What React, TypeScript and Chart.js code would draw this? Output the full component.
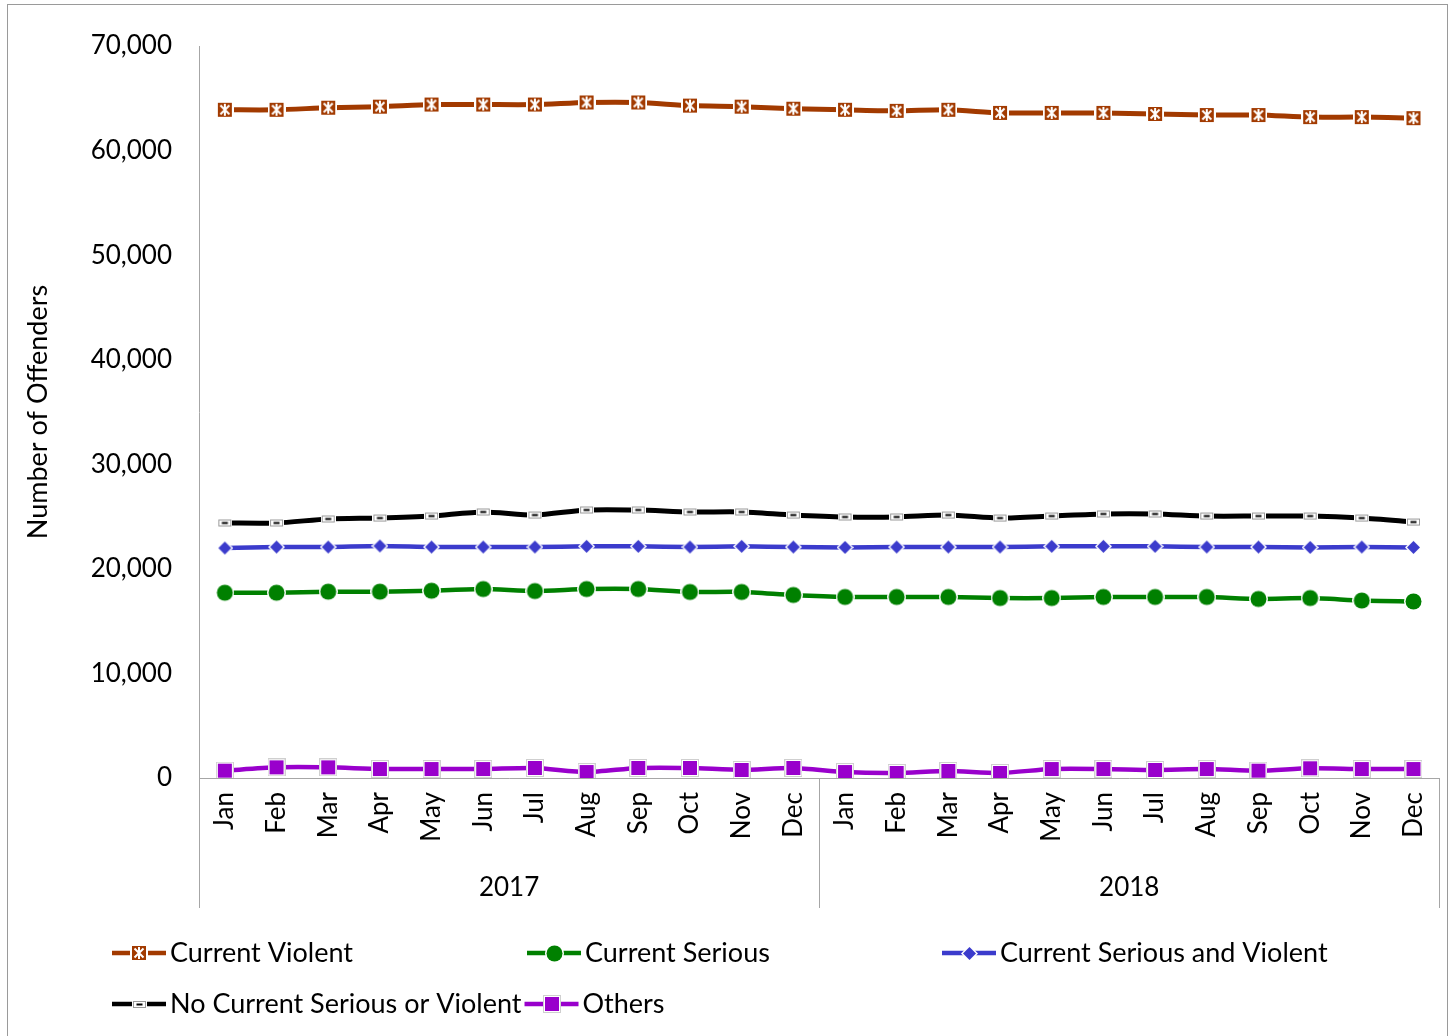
import React, { useEffect, useRef } from "react";
import { Chart, registerables } from "chart.js";

Chart.register(...registerables);

const monthLabels = ["Jan", "Feb", "Mar", "Apr", "May", "Jun", "Jul", "Aug", "Sep", "Oct", "Nov", "Dec"];
const years = ["2017", "2018"];
const categories = [...monthLabels, ...monthLabels];

const currentViolent = [63900, 63900, 64100, 64200, 64400, 64400, 64400, 64600, 64600, 64300, 64200, 64000,
  63900, 63800, 63900, 63600, 63600, 63600, 63500, 63400, 63400, 63200, 63200, 63100];
const currentSerious = [17720, 17720, 17820, 17820, 17910, 18070, 17880, 18070, 18070, 17790, 17790, 17500,
  17310, 17310, 17310, 17210, 17210, 17310, 17310, 17310, 17120, 17210, 16970, 16880];
const currentSeriousViolent = [21990, 22090, 22090, 22190, 22090, 22090, 22090, 22150, 22150, 22090, 22150, 22090,
  22050, 22090, 22090, 22090, 22150, 22150, 22150, 22090, 22090, 22050, 22090, 22050];
const noCurrent = [24390, 24390, 24770, 24860, 25050, 25440, 25150, 25630, 25630, 25440, 25440, 25150,
  24960, 24960, 25150, 24860, 25050, 25250, 25250, 25050, 25050, 25050, 24860, 24480];
const others = [700, 1020, 1020, 860, 860, 860, 960, 570, 960, 960, 770, 960,
  570, 480, 670, 480, 860, 860, 770, 860, 700, 930, 860, 860];

const yMax = 70000;
const yStep = 10000;
const seriesNames = ["Current Violent", "Current Serious", "Current Serious and Violent", "No Current Serious or Violent", "Others"];
const seriesColors = ["#A23A00", "#008000", "#3B3BCC", "#000000", "#9900CC"];

const FONT = "Lato";
const FS = 26;
const FS_LEGEND = 27;

function makeCanvas(w: number, h: number) {
  const c = document.createElement("canvas");
  c.width = w;
  c.height = h;
  return c;
}

function markerViolent() {
  const c = makeCanvas(18, 18);
  const ctx = c.getContext("2d")!;
  ctx.fillStyle = "#ffffff";
  ctx.fillRect(0, 0, 18, 18);
  ctx.fillStyle = seriesColors[0];
  ctx.fillRect(2, 2, 14, 14);
  ctx.strokeStyle = "#ffffff";
  ctx.lineWidth = 2;
  ctx.beginPath();
  ctx.moveTo(4.5, 4.5); ctx.lineTo(13.5, 13.5);
  ctx.moveTo(13.5, 4.5); ctx.lineTo(4.5, 13.5);
  ctx.moveTo(9, 3); ctx.lineTo(9, 15);
  ctx.stroke();
  return c;
}

function markerSerious() {
  const c = makeCanvas(19, 19);
  const ctx = c.getContext("2d")!;
  ctx.fillStyle = "#ffffff";
  ctx.beginPath(); ctx.arc(9.5, 9.5, 9.5, 0, Math.PI * 2); ctx.fill();
  ctx.fillStyle = seriesColors[1];
  ctx.beginPath(); ctx.arc(9.5, 9.5, 8, 0, Math.PI * 2); ctx.fill();
  return c;
}

function markerSV() {
  const c = makeCanvas(17, 17);
  const ctx = c.getContext("2d")!;
  ctx.fillStyle = "#ffffff";
  ctx.beginPath(); ctx.moveTo(8.5, 0); ctx.lineTo(17, 8.5); ctx.lineTo(8.5, 17); ctx.lineTo(0, 8.5); ctx.closePath(); ctx.fill();
  ctx.fillStyle = seriesColors[2];
  ctx.beginPath(); ctx.moveTo(8.5, 2); ctx.lineTo(15, 8.5); ctx.lineTo(8.5, 15); ctx.lineTo(2, 8.5); ctx.closePath(); ctx.fill();
  return c;
}

function markerNone() {
  const c = makeCanvas(15, 9);
  const ctx = c.getContext("2d")!;
  ctx.fillStyle = "#ffffff";
  ctx.fillRect(0, 0, 15, 9);
  ctx.strokeStyle = "#9a9a9a";
  ctx.lineWidth = 1;
  ctx.strokeRect(1.5, 1.5, 12, 6);
  ctx.fillStyle = "#000000";
  ctx.fillRect(4.5, 3.5, 6, 2);
  return c;
}

function markerOthers() {
  const c = makeCanvas(18, 18);
  const ctx = c.getContext("2d")!;
  ctx.fillStyle = "#ffffff";
  ctx.fillRect(0, 0, 18, 18);
  ctx.strokeStyle = "#cfcfcf";
  ctx.lineWidth = 1;
  ctx.strokeRect(0.5, 0.5, 17, 17);
  ctx.fillStyle = seriesColors[4];
  ctx.fillRect(2, 2, 14, 14);
  return c;
}

export default function App() {
  const ref = useRef<HTMLCanvasElement | null>(null);

  useEffect(() => {
    if (!ref.current) return;
    const markers = [markerViolent(), markerSerious(), markerSV(), markerNone(), markerOthers()];
    const seriesData = [currentViolent, currentSerious, currentSeriousViolent, noCurrent, others];
    const widths = [5, 4.5, 4.5, 5, 4.5];

    const decor = {
      id: "decor",
      afterDraw(chart: any) {
        const ctx = chart.ctx as CanvasRenderingContext2D;
        const area = chart.chartArea;
        const xs = chart.scales.x;
        ctx.save();
        const mid = (xs.getPixelForValue(11) + xs.getPixelForValue(12)) / 2;
        ctx.strokeStyle = "#a6a6a6";
        ctx.lineWidth = 1;
        ctx.beginPath();
        for (const x of [area.left, mid, area.right]) {
          const px = Math.round(x) + 0.5;
          ctx.moveTo(px, area.bottom);
          ctx.lineTo(px, 908);
        }
        ctx.stroke();
        ctx.fillStyle = "#000000";
        ctx.font = `${FS}px ${FONT}`;
        ctx.textAlign = "center";
        ctx.textBaseline = "middle";
        ctx.fillText(years[0], (area.left + mid) / 2, 888);
        ctx.fillText(years[1], (mid + area.right) / 2, 888);

        ctx.font = `${FS_LEGEND}px ${FONT}`;
        const drawItem = (i: number, x0: number, y: number) => {
          ctx.strokeStyle = seriesColors[i];
          ctx.lineWidth = 4.5;
          ctx.beginPath();
          ctx.moveTo(x0, y);
          ctx.lineTo(x0 + 54, y);
          ctx.stroke();
          const m = markers[i];
          ctx.drawImage(m, Math.round(x0 + 27 - m.width / 2), Math.round(y - m.height / 2));
          ctx.fillStyle = "#000000";
          ctx.textAlign = "left";
          ctx.textBaseline = "middle";
          ctx.fillText(seriesNames[i], x0 + 58, y);
          return x0 + 58 + ctx.measureText(seriesNames[i]).width;
        };
        drawItem(0, 112, 953);
        drawItem(1, 527, 953);
        drawItem(2, 942, 953);
        const end = drawItem(3, 112, 1004);
        drawItem(4, end + 3, 1004);
        ctx.restore();
      },
    };

    const chart = new Chart(ref.current, {
      type: "line",
      data: {
        labels: categories,
        datasets: seriesData.map((d, i) => ({
          label: seriesNames[i],
          data: d,
          borderColor: seriesColors[i],
          backgroundColor: seriesColors[i],
          borderWidth: widths[i],
          tension: 0.25,
          pointStyle: markers[i] as any,
          pointRadius: 8,
          pointHoverRadius: 8,
          fill: false,
        })),
      },
      options: {
        animation: false,
        responsive: false,
        maintainAspectRatio: false,
        layout: { padding: { left: 0, top: 46, right: 15, bottom: 0 } },
        plugins: { legend: { display: false }, tooltip: { enabled: false } },
        scales: {
          x: {
            type: "category",
            offset: true,
            grid: { display: false, drawTicks: false },
            border: { display: true, color: "#a6a6a6", width: 1 },
            ticks: {
              autoSkip: false,
              maxRotation: 90,
              minRotation: 90,
              padding: 14,
              color: "#000000",
              font: { family: FONT, size: FS },
            },
            afterFit(scale: any) {
              scale.height = 1036 - 778;
            },
          },
          y: {
            min: 0,
            max: yMax,
            grid: { display: false, drawTicks: false },
            border: { display: true, color: "#a6a6a6", width: 1 },
            ticks: {
              stepSize: yStep,
              padding: 27,
              color: "#000000",
              font: { family: FONT, size: FS },
              callback: (v: any) => Number(v).toLocaleString("en-US"),
            },
            title: {
              display: true,
              text: "Number of Offenders",
              color: "#000000",
              font: { family: FONT, size: FS_LEGEND },
              padding: { top: 22, bottom: 0 },
            },
            afterFit(scale: any) {
              scale.width = 199;
            },
          },
        },
      },
      plugins: [decor],
    });
    return () => chart.destroy();
  }, []);

  return (
    <div style={{ position: "fixed", left: 0, top: 0, width: 1452, height: 1036, overflow: "hidden", background: "#ffffff" }}>
      <canvas ref={ref} width={1459} height={1036} style={{ display: "block", position: "absolute", left: 0, top: 0 }} />
      <div style={{ position: "absolute", left: 7, top: 4, width: 1439, height: 1100, border: "1px solid #9a9a9a", pointerEvents: "none" }} />
    </div>
  );
}
